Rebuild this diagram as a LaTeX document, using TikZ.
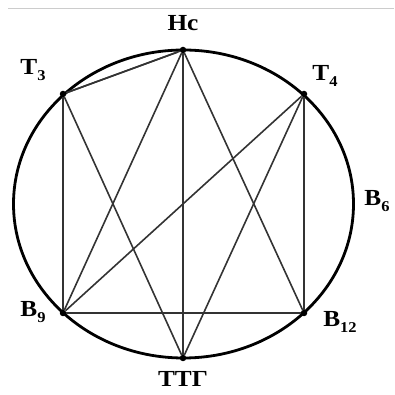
\documentclass[tikz,border=0pt]{standalone}
\usepackage{fontspec}
\setmainfont{Liberation Serif}[FakeStretch=1.1]
\newcommand{\lsub}[1]{\raisebox{-0.28em}{\fontsize{15}{15}\selectfont #1}}
\begin{document}
\begin{tikzpicture}[x=1pt,y=1pt,
  chord/.style={black!80,line width=1.6pt},
  vdot/.style={circle,fill=black,inner sep=0pt,minimum size=6.5pt},
  lbl/.style={font=\fontsize{23}{23}\selectfont\bfseries,inner sep=0pt}]
\useasboundingbox (0,0) rectangle (394,395);
\draw[black!20,line width=1pt] (8,386) -- (394,386);
\coordinate (O) at (183.5,191);
\draw[line width=2.8pt] (O) ellipse [x radius=170, y radius=154];
\node[vdot] (Hc) at (183,345) {};
\node[vdot] (T3) at (63,301) {};
\node[vdot] (T4) at (304,301) {};
\node[vdot] (B9) at (63,82) {};
\node[vdot] (B12) at (304,82) {};
\node[vdot] (TTG) at (183,37) {};
\coordinate (Hc2) at (178,343);
\draw[chord] (T3) -- (Hc);
\draw[chord] (T3) -- (Hc2);
\draw[chord] (Hc) -- (B9);
\draw[chord] (Hc) -- (TTG);
\draw[chord] (Hc) -- (B12);
\draw[chord] (T3) -- (B9);
\draw[chord] (T3) -- (TTG);
\draw[chord] (T4) -- (B9);
\draw[chord] (T4) -- (TTG);
\draw[chord] (T4) -- (B12);
\draw[chord] (B9) -- (B12);
\node[lbl] (lHc) at (183,372) {Нс};
\node[lbl] (lT3) at (33,325) {Т\lsub{3}};
\node[lbl] (lT4) at (325,319) {Т\lsub{4}};
\node[lbl] (lB6) at (377,194) {В\lsub{6}};
\node[lbl] (lB9) at (33,83) {В\lsub{9}};
\node[lbl] (lB12) at (340,73) {В\lsub{12}};
\node[lbl] (lTTG) at (183,16) {ТТГ};
\end{tikzpicture}
\end{document}
